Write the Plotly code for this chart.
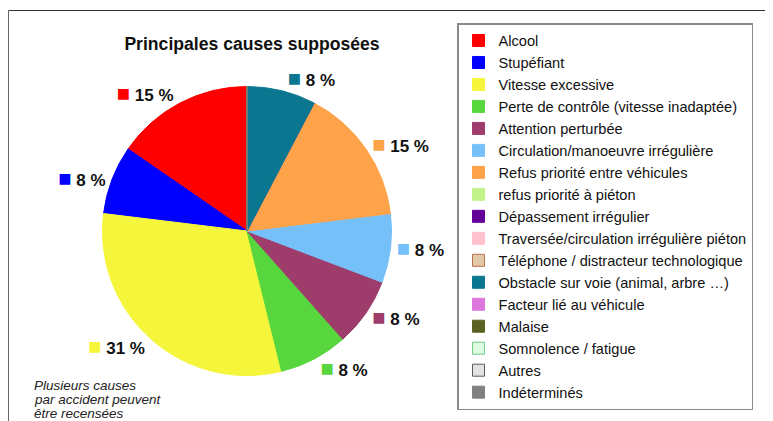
import plotly.graph_objects as go

categories = [
    "Alcool", "Stupéfiant", "Vitesse excessive", "Perte de contrôle (vitesse inadaptée)",
    "Attention perturbée", "Circulation/manoeuvre irrégulière", "Refus priorité entre véhicules",
    "refus priorité à piéton", "Dépassement irrégulier", "Traversée/circulation irrégulière piéton",
    "Téléphone / distracteur technologique", "Obstacle sur voie (animal, arbre …)",
    "Facteur lié au véhicule", "Malaise", "Somnolence / fatigue", "Autres", "Indéterminés",
]
counts = [2, 1, 4, 1, 1, 1, 2, 0, 0, 0, 0, 1, 0, 0, 0, 0, 0]
colors = [
    "#FF0000", "#0000FF", "#F5F53C", "#58D63E", "#9E3D6C", "#76C0F9", "#FFA34B",
    "#C2F28A", "#650099", "#FFC2CE", "#E3C8A6", "#0B7690", "#DD77DD", "#5B6123",
    "#DDFBE0", "#E2E2E2", "#808080",
]
border_colors = [
    "#FF0000", "#0000FF", "#F5F53C", "#58D63E", "#9E3D6C", "#76C0F9", "#FFA34B",
    "#C2F28A", "#650099", "#FFC2CE", "#B8704E", "#0B7690", "#DD77DD", "#5B6123",
    "#6FCC8A", "#5A5A5A", "#808080",
]
note_lines = ["Plusieurs causes", "par accident peuvent", "être recensées"]

total = sum(counts)
texts = [
    f"<span style='color:{c};font-size:22px'>■</span> <b>{round(v / total * 100)} %</b>" if v > 0 else ""
    for v, c in zip(counts, colors)
]

# the page body has an 8px margin: the figure is drawn 8px right and down
OFF = 8
W, H = 773 - OFF, 421 - OFF


def px(x):
    return (x - OFF) / W


def py(y):
    return 1 - (y - OFF) / H


cx, cy, r = 247, 231, 144.5

# plotly puts the first counterclockwise slice to the right of 12 o'clock;
# rotate back by that slice's angle so it starts at 12 o'clock going left
first_angle = 360 * counts[0] / total

fig = go.Figure(go.Pie(
    labels=categories,
    values=counts,
    text=texts,
    texttemplate="%{text}",
    textposition="outside",
    sort=False,
    direction="counterclockwise",
    rotation=-first_angle,
    marker=dict(colors=colors, line=dict(color=border_colors, width=1)),
    outsidetextfont=dict(family="Liberation Sans", size=17, color="#111111"),
    hoverinfo="label+value",
    domain=dict(x=[px(cx - r), px(cx + r)], y=[py(cy + r), py(cy - r)]),
    showlegend=True,
))

fig.update_layout(
    width=W, height=H,
    margin=dict(l=0, r=0, t=0, b=0),
    paper_bgcolor="white",
    font=dict(family="Liberation Sans", color="#111111"),
    title=dict(
        text="<b>Principales causes supposées</b>",
        x=px(252), xanchor="center", y=py(44), yanchor="middle",
        font=dict(family="Liberation Sans", size=17.6, color="#111111"),
    ),
    legend=dict(
        x=px(457), xanchor="left", y=py(23), yanchor="top",
        bordercolor="#8A8A8A", borderwidth=1.5,
        bgcolor="white",
        font=dict(family="Liberation Sans", size=14.6, color="#111111"),
        traceorder="normal",
    ),
    shapes=[
        dict(type="line", xref="paper", yref="paper", x0=px(8.5), x1=1, y0=py(10.5), y1=py(10.5),
             line=dict(color="#333333", width=1)),
        dict(type="line", xref="paper", yref="paper", x0=px(8.5), x1=px(8.5), y0=0, y1=py(10.5),
             line=dict(color="#666666", width=1)),
    ],
    annotations=[
        dict(
            text=f"<i>{line}</i>",
            xref="paper", yref="paper", x=px(32), y=py(385 + 14 * i),
            xanchor="left", yanchor="middle", align="left", showarrow=False,
            font=dict(family="Liberation Sans", size=13.5, color="#222222"),
        )
        for i, line in enumerate(note_lines)
    ],
)

fig.write_html("out.html")
